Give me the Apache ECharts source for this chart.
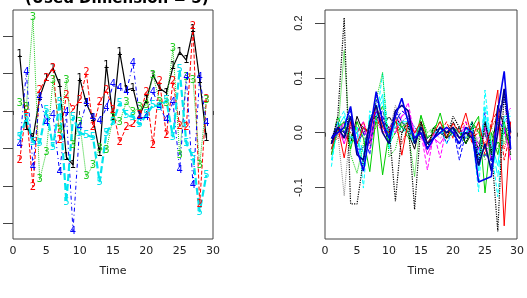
<!DOCTYPE html>
<html>
<head>
<meta charset="utf-8">
<script src="https://cdn.jsdelivr.net/npm/echarts@6/dist/echarts.min.js"></script>
<style>
  html, body { margin: 0; padding: 0; background: #fff; }
  #main { width: 527px; height: 298px; }
</style>
</head>
<body>
<div id="main"></div>
<script>
// time points 1..29
var times = [1,2,3,4,5,6,7,8,9,10,11,12,13,14,15,16,17,18,19,20,21,22,23,24,25,26,27,28,29];

// left panel: 5 components
var comp1 = [1.50,-0.43,-0.72,0.37,0.88,1.15,0.70,-1.23,-1.44,0.88,0.21,-0.19,-1.12,1.23,-0.16,1.58,0.56,0.61,-0.11,0.29,0.96,0.61,0.48,1.18,1.58,1.36,2.17,0.83,-0.72];
var comp2 = [-1.31,0.03,-2.03,0.56,0.88,1.15,-0.78,0.43,0.03,0.29,1.02,-0.45,0.24,0.56,0.03,-0.83,-0.43,-0.35,-0.11,0.51,-0.91,0.78,-0.64,0.78,-0.40,-0.43,2.25,-2.50,0.30];
var comp3 = [0.21,0.11,2.49,-1.84,-1.10,0.83,-0.51,0.83,-0.91,-0.30,-1.76,-1.44,-1.00,-1.04,-0.19,-0.30,0.24,-0.03,0.11,0.16,0.96,0.24,0.20,1.68,-1.18,0.90,0.83,-1.44,0.29];
var comp4 = [-0.91,1.04,-1.50,0.37,-0.32,-0.11,-1.63,-0.03,-3.21,-0.43,0.21,-0.19,-0.29,0.08,0.70,0.61,0.50,1.28,-0.19,-0.16,0.51,0.10,-0.24,0.24,-1.58,0.91,-1.98,0.91,-0.32];
var comp5 = [-0.70,-0.19,-0.83,-0.86,0.03,-0.96,0.24,-2.43,-0.16,-0.59,-0.64,-0.70,-1.90,-0.59,-0.30,0.21,-0.11,-0.16,-0.37,-0.10,0.16,0.11,0.29,-0.70,1.10,-0.86,-1.23,-2.70,-1.71];

// right panel: residual curves
var r1 = [-0.02,0.03,0.21,-0.13,-0.13,-0.05,0.02,0.03,0.02,0.01,-0.125,0.00,0.02,-0.14,0.02,-0.03,0.01,0.00,-0.01,0.03,0.01,-0.02,0.02,-0.06,0.02,-0.03,-0.18,0.08,-0.04];
var r2 = [-0.03,0.00,0.15,-0.04,-0.074,-0.02,0.01,0.06,0.11,-0.044,-0.03,0.02,0.00,-0.08,0.03,0.00,0.01,0.02,-0.01,0.00,-0.02,0.01,0.00,-0.02,0.00,-0.04,0.02,-0.02,0.01];
var r3 = [-0.02,0.00,-0.115,0.02,0.00,0.01,-0.02,0.04,0.01,0.00,0.05,0.02,-0.01,0.00,0.01,-0.02,0.00,0.01,0.00,0.02,-0.01,0.00,0.01,-0.02,0.01,-0.03,0.02,0.00,-0.02];
var r4 = [-0.04,0.01,0.02,-0.03,0.02,-0.01,-0.071,0.03,-0.077,0.00,0.02,0.01,0.02,-0.02,0.032,-0.01,0.00,0.036,-0.01,0.01,0.00,-0.02,0.01,0.03,-0.11,0.00,-0.04,0.02,-0.03];
var r5 = [-0.03,0.01,-0.046,0.02,-0.02,0.01,0.00,0.05,0.01,0.00,0.03,-0.041,0.02,0.00,0.02,-0.02,0.00,0.02,-0.01,0.017,0.00,0.036,-0.01,0.02,-0.03,0.01,0.078,-0.17,0.02];
var r6 = [-0.062,0.02,0.04,-0.02,0.01,-0.101,0.04,0.02,0.109,-0.02,0.03,0.00,0.01,-0.01,0.02,-0.03,0.00,0.01,-0.02,0.00,0.01,-0.01,0.00,-0.108,0.078,-0.03,-0.117,0.02,0.04];
var r7 = [-0.01,0.00,0.01,0.048,-0.03,-0.07,0.00,0.075,0.02,-0.01,0.03,0.063,0.02,-0.01,0.00,-0.03,-0.01,0.00,0.01,0.00,-0.02,0.01,0.00,-0.09,-0.085,-0.08,0.04,0.112,-0.03];
var r8 = [-0.02,0.01,-0.01,0.03,-0.04,-0.05,0.02,0.05,0.00,-0.02,0.04,0.05,0.04,-0.02,0.01,-0.02,-0.01,0.01,0.00,0.01,-0.01,0.00,-0.01,-0.06,-0.02,-0.07,0.00,0.08,0.00];
var r9 = [-0.03,0.00,0.02,-0.01,0.00,0.02,-0.03,0.03,0.01,-0.01,0.02,0.03,0.055,-0.01,0.00,-0.068,0.00,-0.046,0.01,0.00,-0.01,0.02,0.00,-0.03,0.00,-0.05,0.01,0.03,0.045];
var r10 = [-0.02,0.02,-0.01,0.04,-0.02,0.00,-0.04,0.06,0.03,0.00,0.04,0.02,0.01,-0.02,0.01,-0.01,0.00,0.01,-0.02,0.01,-0.05,0.00,0.01,-0.04,0.037,-0.06,0.03,0.00,0.02];
var r11 = [-0.01,0.01,0.00,-0.02,0.03,0.00,0.01,0.04,0.02,-0.02,0.03,0.01,0.00,-0.03,0.02,-0.02,0.00,0.01,-0.01,0.00,0.01,-0.02,0.00,-0.03,0.02,-0.04,0.05,0.01,-0.03];
var r12 = [-0.04,0.02,-0.02,0.01,0.00,0.02,-0.02,0.03,0.00,0.01,0.02,0.00,0.02,-0.01,0.01,-0.02,0.00,0.00,0.02,-0.01,0.01,0.02,-0.02,0.01,-0.04,0.02,0.04,-0.05,0.00];
var r13 = [-0.02,0.03,0.00,0.00,-0.03,0.01,0.00,0.02,0.05,-0.02,0.00,0.01,-0.01,0.00,0.02,-0.03,0.01,0.02,0.00,0.00,-0.01,0.00,0.02,0.00,-0.03,0.01,-0.02,0.00,-0.04];
var r14 = [-0.05,0.01,0.03,-0.01,0.00,-0.06,0.03,0.04,0.07,-0.03,0.02,0.01,0.00,-0.02,0.01,-0.02,0.00,0.00,-0.01,0.01,0.00,0.00,0.02,-0.07,0.03,-0.02,-0.06,0.03,0.03];
var r15 = [-0.02,0.01,-0.02,0.02,0.01,0.00,-0.01,0.04,0.02,0.01,0.00,0.03,0.04,0.00,0.00,-0.04,-0.01,-0.02,0.00,0.01,0.00,0.01,-0.01,-0.02,0.01,-0.03,0.02,0.01,-0.05];
var r16 = [-0.01,0.02,0.00,0.01,-0.02,0.01,-0.02,0.03,0.04,0.00,0.01,0.02,0.03,0.01,-0.01,-0.01,0.00,0.00,0.01,0.00,-0.01,0.00,0.00,-0.04,0.00,-0.04,0.02,0.06,-0.02];
var r17 = [-0.03,0.00,0.01,-0.01,0.02,0.01,0.00,0.02,0.01,0.03,0.01,0.00,0.01,-0.01,0.00,-0.02,0.00,0.01,-0.01,0.02,0.00,-0.01,0.01,-0.05,0.01,-0.02,0.01,0.00,-0.01];
var r18 = [-0.02,-0.01,0.02,0.00,0.00,0.02,-0.01,0.01,0.03,0.00,0.01,-0.02,0.01,0.00,0.01,-0.01,0.00,0.00,-0.01,0.00,0.01,0.01,-0.01,0.00,-0.02,0.01,0.03,-0.03,0.01];
var r19 = [-0.01,0.00,0.01,-0.02,0.01,0.00,-0.03,0.02,0.02,-0.02,0.00,0.02,0.00,-0.01,0.02,-0.01,0.01,0.01,0.00,0.00,0.00,-0.01,0.01,0.01,-0.05,0.00,-0.03,0.01,0.00];
var r20 = [-0.03,0.01,0.02,-0.02,0.01,-0.04,0.02,0.03,0.06,-0.01,0.01,0.02,0.02,-0.01,0.00,-0.02,-0.01,0.00,0.00,0.01,0.00,0.00,0.01,-0.05,0.05,-0.02,-0.08,0.02,0.02];
var r21 = [-0.02,0.00,0.01,0.01,-0.01,0.01,0.00,0.02,0.00,0.00,0.02,0.01,0.02,-0.01,0.00,-0.03,0.00,-0.01,0.00,0.00,0.00,0.01,-0.01,-0.01,0.00,-0.02,0.01,0.02,0.02];
var r22 = [-0.01,0.01,0.00,0.03,-0.03,-0.03,0.01,0.04,0.01,-0.01,0.02,0.04,0.03,-0.02,0.01,-0.03,-0.01,0.01,0.00,0.01,-0.03,0.00,0.00,-0.05,-0.04,-0.05,0.03,0.07,-0.01];

var xTicks = [0,5,10,15,20,25,30];
var leftYTicks = [-3,-2,-1,0,1,2];
var rightYTicks = [-0.1,0.0,0.1,0.2];

// styles
var font = 'DejaVu Sans';
var leftComps = [comp1, comp2, comp3, comp4, comp5];
var leftColors = ['#000000', '#FF0000', '#22CC22', '#0000FF', '#00E5EE'];
var leftTypes = ['solid', 'dashed', 'dotted', [1, 3, 4, 3], [7, 3]];
var leftWidths = [1.2, 1, 1, 1, 2.2];

var rightSeries = [r17, r18, r21, r19, r3, r12, r13, r11, r15, r16, r10, r9, r14, r20, r22, r4, r6, r2, r5, r1, r8, r7];
var rightColors = ['#000000', '#FF0000', '#FF00FF', '#00CD00', '#888888', '#FF0000', '#00CD00', '#000000', '#FF00FF', '#0000FF', '#0000FF', '#FF00FF', '#00FFFF', '#00FFFF', '#0000FF', '#00CD00', '#00FFFF', '#00CD00', '#FF0000', '#000000', '#00008B', '#0000EE'];
var rightTypes = ['dashed', 'dotted', 'dotted', [1, 3, 4, 3], 'dotted', 'dashed', 'dashed', 'solid', 'solid', 'dotted', 'dashed', 'dashed', 'solid', [7, 3], [7, 3], 'solid', 'dashed', 'dotted', 'solid', 'dotted', 'solid', 'solid'];
var rightWidths = [1, 1, 1, 1, 1, 1, 1, 1, 1, 1, 1, 1, 1, 1, 1, 1, 1, 1, 1, 1.2, 1.6, 1.6];

function pairs(vals) {
    return vals.map(function (v, i) { return [times[i], v]; });
}

var series = [];
leftComps.forEach(function (vals, k) {
    series.push({
        type: 'line',
        xAxisIndex: 0,
        yAxisIndex: 0,
        data: pairs(vals),
        symbol: 'circle',
        symbolSize: 0.1,
        itemStyle: { color: leftColors[k] },
        lineStyle: { color: leftColors[k], width: leftWidths[k], type: leftTypes[k] },
        label: {
            show: true,
            position: 'inside',
            formatter: String(k + 1),
            color: leftColors[k],
            fontFamily: font,
            fontSize: 10
        },
        animation: false,
        silent: true
    });
});

rightSeries.forEach(function (vals, k) {
    series.push({
        type: 'line',
        xAxisIndex: 1,
        yAxisIndex: 1,
        data: pairs(vals),
        symbol: 'none',
        lineStyle: { color: rightColors[k], width: rightWidths[k], type: rightTypes[k] },
        animation: false,
        silent: true
    });
});

function xAxisFor(idx) {
    return {
        type: 'value',
        gridIndex: idx,
        min: 0,
        max: 30,
        interval: 5,
        name: 'Time',
        nameLocation: 'middle',
        nameGap: 27,
        nameTextStyle: { fontFamily: font, fontSize: 11, color: '#222' },
        axisLine: { show: false },
        axisTick: { show: true, length: 4, lineStyle: { color: '#444' } },
        axisLabel: { fontFamily: font, fontSize: 11, color: '#222', margin: 7 },
        splitLine: { show: false }
    };
}

var chart = echarts.init(document.getElementById('main'), null, { renderer: 'canvas' });
chart.setOption({
    backgroundColor: '#fff',
    animation: false,
    grid: [
        { left: 13, top: 10, width: 200, height: 229, show: true, borderColor: '#444', borderWidth: 1, backgroundColor: 'transparent' },
        { left: 325, top: 10, width: 201, height: 229, show: true, borderColor: '#444', borderWidth: 1, backgroundColor: 'transparent' }
    ],
    graphic: [{
        type: 'text',
        left: 25,
        top: -8,
        style: {
            text: '(Used Dimension = 5)',
            font: 'bold 15px "DejaVu Sans"',
            fill: '#000'
        }
    }],
    xAxis: [xAxisFor(0), xAxisFor(1)],
    yAxis: [
        {
            type: 'value',
            gridIndex: 0,
            min: -3.42,
            max: 2.70,
            axisLine: { show: false },
            axisTick: { show: true, length: 10, customValues: leftYTicks, lineStyle: { color: '#444' } },
            axisLabel: { show: false },
            splitLine: { show: false }
        },
        {
            type: 'value',
            gridIndex: 1,
            min: -0.194,
            max: 0.224,
            axisLine: { show: false },
            axisTick: { show: true, length: 10, customValues: rightYTicks, lineStyle: { color: '#444' } },
            axisLabel: {
                customValues: rightYTicks,
                rotate: 90,
                margin: 21,
                fontFamily: 'Liberation Sans Narrow, Liberation Sans',
                fontSize: 11,
                color: '#222',
                formatter: function (v) { return v.toFixed(1); }
            },
            splitLine: { show: false }
        }
    ],
    series: series
});
</script>
</body>
</html>
